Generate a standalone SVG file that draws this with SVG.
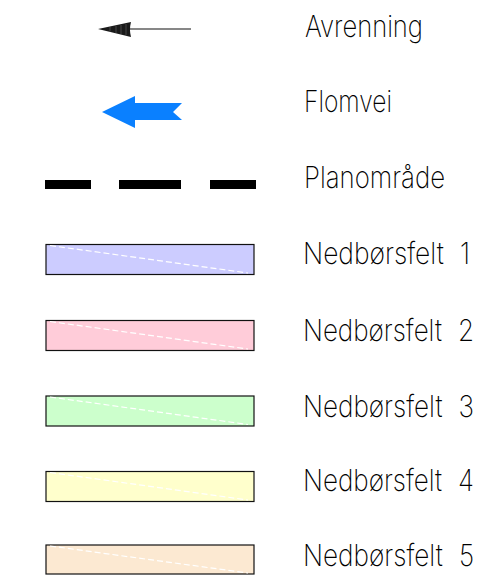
<svg xmlns="http://www.w3.org/2000/svg" width="502" height="578" viewBox="0 0 502 578">
  <style>
    .lbl { font-family: Inter, "DejaVu Sans", sans-serif; font-weight: 150; font-size: 30px; fill: #000; }
    .num { word-spacing: 10px; }
    .swatch { stroke: #111; stroke-width: 1.2; }
    .diag { stroke: #fff; stroke-width: 1.2; stroke-dasharray: 6 3; fill: none; }
  </style>
  <rect width="502" height="578" fill="#fff"/>

  <!-- runoff arrow -->
  <g id="avrenning">
    <line x1="128" y1="29" x2="191" y2="29" stroke="#111" stroke-width="1.2"/>
    <path d="M98,29 L131,22 Q129,29.5 131,37 Z" fill="#1a1a1a"/>
    <g stroke="#777" stroke-width="0.5">
      <line x1="110" y1="27" x2="110" y2="31.5"/>
      <line x1="116" y1="26" x2="116" y2="33"/>
      <line x1="121" y1="25" x2="121" y2="34"/>
      <line x1="126" y1="24" x2="126" y2="35"/>
    </g>
    <text class="lbl" x="305" y="37" textLength="118" lengthAdjust="spacingAndGlyphs">Avrenning</text>
  </g>

  <!-- flood path arrow -->
  <g id="flomvei">
    <polygon points="102,112 135,96 135,103 182,103 173,112 182,120 135,120 135,128" fill="#0A80FF"/>
    <text class="lbl" x="304" y="112" textLength="88" lengthAdjust="spacingAndGlyphs">Flomvei</text>
  </g>

  <!-- plan area boundary -->
  <g id="planomrade">
    <rect x="45" y="180" width="46" height="9" fill="#000"/>
    <rect x="119" y="180" width="62" height="9" fill="#000"/>
    <rect x="210" y="180" width="46" height="9" fill="#000"/>
    <text class="lbl" x="304" y="188" textLength="141" lengthAdjust="spacingAndGlyphs">Planområde</text>
  </g>

  <!-- catchment areas -->
  <g id="nedborsfelt1">
    <rect class="swatch" x="46" y="244.5" width="208" height="30" fill="#CCCCFF"/>
    <line class="diag" x1="50" y1="245.5" x2="248" y2="273"/>
    <text class="lbl num" x="303" y="264" textLength="167" lengthAdjust="spacingAndGlyphs">Nedbørsfelt 1</text>
  </g>
  <g id="nedborsfelt2">
    <rect class="swatch" x="46" y="320.5" width="208" height="30" fill="#FFCCD9"/>
    <line class="diag" x1="50" y1="321.5" x2="248" y2="349"/>
    <text class="lbl num" x="303" y="341" textLength="171" lengthAdjust="spacingAndGlyphs">Nedbørsfelt 2</text>
  </g>
  <g id="nedborsfelt3">
    <rect class="swatch" x="46" y="396" width="208" height="30" fill="#CCFFCC"/>
    <line class="diag" x1="50" y1="397" x2="248" y2="424.5"/>
    <text class="lbl num" x="303" y="417" textLength="171" lengthAdjust="spacingAndGlyphs">Nedbørsfelt 3</text>
  </g>
  <g id="nedborsfelt4">
    <rect class="swatch" x="46" y="471.5" width="208" height="30" fill="#FFFFCC"/>
    <line class="diag" x1="50" y1="472.5" x2="248" y2="500"/>
    <text class="lbl num" x="303" y="491" textLength="171" lengthAdjust="spacingAndGlyphs">Nedbørsfelt 4</text>
  </g>
  <g id="nedborsfelt5">
    <rect class="swatch" x="46" y="545" width="208" height="29" fill="#FCE9D2"/>
    <line class="diag" x1="50" y1="546" x2="248" y2="573"/>
    <text class="lbl num" x="303" y="566" textLength="171" lengthAdjust="spacingAndGlyphs">Nedbørsfelt 5</text>
  </g>
</svg>
